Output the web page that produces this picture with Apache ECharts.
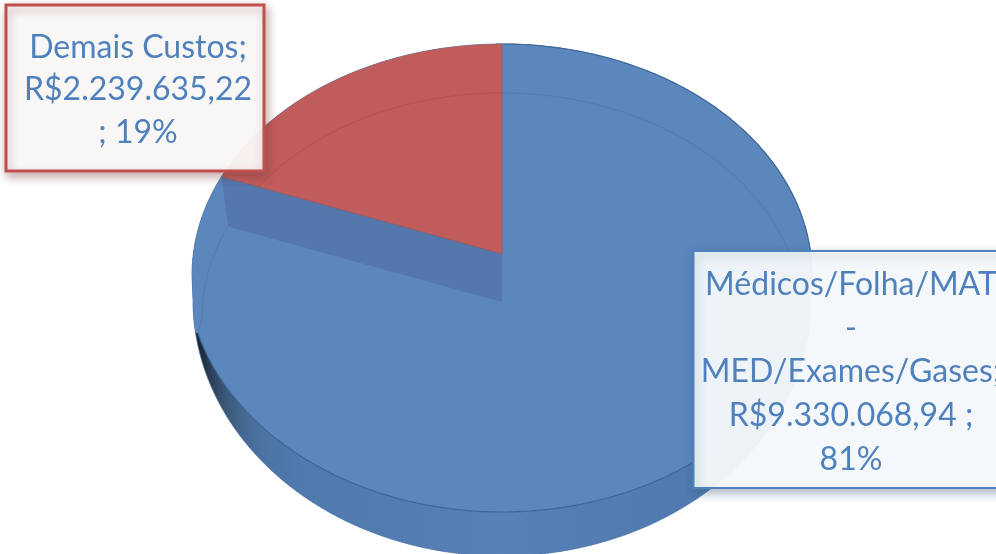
<!DOCTYPE html>
<html>
<head>
<meta charset="utf-8">
<script src="https://cdn.jsdelivr.net/npm/echarts@6/dist/echarts.min.js"></script>
<style>
html, body { margin: 0; padding: 0; background: #fff; }
#pieChart { width: 996px; height: 554px; }
</style>
</head>
<body>
<div id="pieChart"></div>
<script>
// dados do grafico
let categories = ['Médicos/Folha/MAT - MED/Exames/Gases', 'Demais Custos'];
let values = [9330068.94, 2239635.22];
let labelTexts = [
    'Médicos/Folha/MAT\n-\nMED/Exames/Gases;\nR$9.330.068,94 ;\n81%',
    'Demais Custos;\nR$2.239.635,22\n; 19%'
];

let total = values[0] + values[1];
let pieChart = echarts.init(document.getElementById('pieChart'), null, { renderer: 'canvas' });

// elipses da pizza em perspectiva: metade de cima e de baixo tem raios diferentes
let cx = 502;
let backArc = { rxU: 310, rxL: 310, cyU: 275, ryU: 231, cyL: 275, ryL: 190 };
let faceArc = { rxU: 300, rxL: 315, cyU: 318, ryU: 225, cyL: 270, ryL: 242 };
let sideArc = { rxU: 309, rxL: 309, cyU: 300, ryU: 200, cyL: 300, ryL: 256 };
let redApex = [cx, 254];
let faceApex = [cx, 302];
let seamY = 333; // onde a lateral some atras da face

// t = 0 no topo, sentido horario
let arcPoint = function (arc, t) {
    let s = Math.sin(t), c = Math.cos(t);
    return c >= 0
        ? [cx + arc.rxU * s, arc.cyU - arc.ryU * c]
        : [cx + arc.rxL * s, arc.cyL - arc.ryL * c];
};

let arcPoints = function (arc, from, to) {
    let pts = [];
    let n = Math.ceil(Math.abs(to - from) / 0.01);
    for (let i = 0; i <= n; i++) {
        pts.push(arcPoint(arc, from + (to - from) * i / n));
    }
    return pts;
};

// onde o raio que sai do apice corta o arco (lado esquerdo de cima)
let hitArc = function (arc, apex, dir) {
    let lo = -Math.PI / 2, hi = 0;
    for (let i = 0; i < 40; i++) {
        let mid = (lo + hi) / 2;
        let p = arcPoint(arc, mid);
        let cross = (p[0] - apex[0]) * dir[1] - (p[1] - apex[1]) * dir[0];
        if (cross > 0) { lo = mid; } else { hi = mid; }
    }
    return (lo + hi) / 2;
};

let cutDirection = function (redShare) {
    let a = redShare * 2 * Math.PI;
    return [-Math.sin(a) * backArc.rxU, -Math.cos(a) * backArc.ryU];
};

let renderSlice = function (params, api) {
    let share = api.value(1) / total;
    let children = [];
    let half = Math.PI / 2;

    if (params.dataIndex === 0) {
        let dir = cutDirection(1 - share);
        let tBack = hitArc(backArc, redApex, dir);
        let tFace = hitArc(faceArc, faceApex, dir);

        let faceOff = Math.asin((seamY - faceArc.cyL) / faceArc.ryL);
        let sideOff = Math.asin((seamY - sideArc.cyL) / sideArc.ryL);

        // lateral
        let outline = arcPoints(backArc, -half, half)
            .concat(arcPoints(sideArc, half, 3 * half));
        children.push({
            type: 'polygon',
            shape: { points: outline },
            style: {
                stroke: '#4a75a8',
                lineWidth: 0.8,
                fill: {
                    type: 'linear', x: 0, y: 0, x2: 1, y2: 0,
                    colorStops: [
                        { offset: 0, color: '#141c29' },
                        { offset: 0.02, color: '#202f43' },
                        { offset: 0.035, color: '#2e435e' },
                        { offset: 0.055, color: '#3a5878' },
                        { offset: 0.08, color: '#44678f' },
                        { offset: 0.115, color: '#4c73a3' },
                        { offset: 0.175, color: '#4f7aad' },
                        { offset: 0.5, color: '#5881b6' },
                        { offset: 0.82, color: '#4f7aaf' },
                        { offset: 1, color: '#46709f' }
                    ]
                }
            }
        });
        // face de cima
        let top = arcPoints(backArc, -half, half)
            .concat(arcPoints(sideArc, half, half + sideOff))
            .concat(arcPoints(faceArc, half + faceOff, 3 * half - faceOff))
            .concat(arcPoints(sideArc, 3 * half - sideOff, 3 * half));
        children.push({ type: 'polygon', shape: { points: top }, style: { fill: '#5b87bd' } });
        // borda da face
        children.push({
            type: 'polyline',
            shape: { points: arcPoints(faceArc, half + faceOff, 3 * half - faceOff) },
            style: { fill: null, stroke: '#3e6798', lineWidth: 1.2 }
        });
        children.push({
            type: 'polyline',
            shape: { points: arcPoints(backArc, -0.02, half) },
            style: { fill: null, stroke: '#41699b', lineWidth: 1.2 }
        });
        // parede do corte
        children.push({
            type: 'polygon',
            shape: { points: [redApex, arcPoint(backArc, tBack), arcPoint(faceArc, tFace), faceApex] },
            style: { fill: '#5477ad' }
        });
        // arco interno
        children.push({
            type: 'polyline',
            shape: { points: [arcPoint(faceArc, 3 * half - faceOff)].concat(arcPoints(faceArc, -half, tFace)) },
            style: { fill: null, stroke: '#4f7cb3', lineWidth: 1 }
        });
        children.push({
            type: 'polyline',
            shape: { points: arcPoints(faceArc, 0, half) },
            style: { fill: null, stroke: '#4f7cb3', lineWidth: 1 }
        });
    } else {
        let dir = cutDirection(share);
        let tBack = hitArc(backArc, redApex, dir);
        let tCross = hitArc(faceArc, redApex, dir);
        let wedge = [redApex].concat(arcPoints(backArc, tBack, 0));
        children.push({
            type: 'polygon',
            shape: { points: wedge },
            style: { fill: '#c05c5a' }
        });
        children.push({
            type: 'polyline',
            shape: { points: [arcPoint(backArc, 0), redApex, arcPoint(backArc, tBack)] },
            style: { fill: null, stroke: '#8a5f72', lineWidth: 1 }
        });
        children.push({
            type: 'polyline',
            shape: { points: arcPoints(faceArc, tCross, 0) },
            style: { fill: null, stroke: '#b25250', lineWidth: 1 }
        });
    }
    return { type: 'group', children: children };
};

let boxStyle = [
    { x: 693.5, y: 251, width: 330, height: 237, stroke: '#4f81bd', lineWidth: 2, fill: 'rgba(251,253,254,0.93)', tx: 851, ty: 372, lh: 43.8, shadow: 'rgba(60,90,130,0.45)' },
    { x: 6, y: 5, width: 258, height: 166, stroke: '#c0504d', lineWidth: 3, fill: 'rgba(253,253,252,0.93)', tx: 138, ty: 90, lh: 42.8, shadow: 'rgba(120,60,60,0.45)' }
];

let renderLabel = function (params, api) {
    let b = boxStyle[params.dataIndex];
    return {
        type: 'group',
        children: [
            {
                type: 'rect',
                shape: { x: b.x, y: b.y, width: b.width, height: b.height },
                style: {
                    fill: b.fill, stroke: b.stroke, lineWidth: b.lineWidth,
                    shadowBlur: 10, shadowOffsetX: 2, shadowOffsetY: 4, shadowColor: b.shadow
                }
            },
            {
                type: 'text',
                style: {
                    x: b.tx, y: b.ty,
                    text: labelTexts[params.dataIndex],
                    fill: '#4f81bd',
                    font: '32px Lato',
                    lineHeight: b.lh,
                    align: 'center',
                    verticalAlign: 'middle'
                }
            }
        ]
    };
};

let option = {
    backgroundColor: '#fff',
    animation: false,
    series: [
        {
            type: 'custom',
            name: 'custos',
            coordinateSystem: 'none',
            silent: true,
            z: 1,
            data: categories.map(function (name, i) { return { name: name, value: [i, values[i]] }; }),
            renderItem: renderSlice
        },
        {
            type: 'custom',
            name: 'rotulos',
            coordinateSystem: 'none',
            silent: true,
            z: 2,
            data: categories.map(function (name, i) { return { name: name, value: [i, values[i]] }; }),
            renderItem: renderLabel
        }
    ]
};
pieChart.setOption(option);
</script>
</body>
</html>
